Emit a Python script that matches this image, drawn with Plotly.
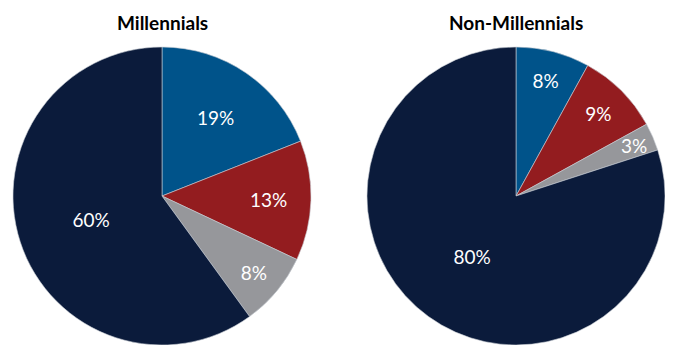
import math
import plotly.graph_objects as go

categories = ["Blue", "Red", "Gray", "Navy"]
millennials = [19, 13, 8, 60]
non_millennials = [8, 9, 3, 80]
titles = ["Millennials", "Non-Millennials"]
colors = ["#00538A", "#931C1F", "#96979B", "#0B1B3B"]

W, H = 673, 345
OX, OY = 8, 8  # page body offset
R = 149
centers = [(162, 196), (516, 196)]  # screen px

fig = go.Figure()
domains = []
for cx, cy in centers:
    fx, fy = cx - OX, cy - OY
    domains.append(dict(x=[(fx - R) / W, (fx + R) / W],
                        y=[1 - (fy + R) / H, 1 - (fy - R) / H]))

label_font = dict(family="Lato", size=19, color="white")
for vals, dom, (cx, cy) in zip([millennials, non_millennials], domains, centers):
    total = sum(vals)
    texts = []
    cum = 0
    for v in vals:
        frac = v / total
        if frac < 0.05:
            # small slice: place label by its mid-angle, near the rim
            ang = 2 * math.pi * (cum + v / 2) / total
            fx = (cx - OX) + 0.86 * R * math.sin(ang)
            fy = (cy - OY) - 0.86 * R * math.cos(ang)
            fig.add_annotation(text="%d%%" % v, x=fx / W, y=1 - fy / H,
                               xref="paper", yref="paper", showarrow=False,
                               xanchor="center", yanchor="middle", font=label_font)
            texts.append("")
        else:
            texts.append("%d%%" % v)
        cum += v
    fig.add_trace(go.Pie(
        labels=categories, values=vals, domain=dom,
        sort=False, direction="clockwise", rotation=0,
        marker=dict(colors=colors, line=dict(color="#C8CCD4", width=0.6)),
        text=texts, texttemplate="%{text}", textposition="inside",
        insidetextorientation="horizontal",
        textfont=label_font,
        showlegend=False, hoverinfo="label+value",
    ))

for t, (cx, cy) in zip(titles, centers):
    fig.add_annotation(text="<b>%s</b>" % t, x=(cx - OX) / W,
                       y=1 - (22 - OY) / H, xref="paper", yref="paper",
                       xanchor="center", yanchor="middle", showarrow=False,
                       font=dict(family="Lato", size=19, color="black"))

fig.update_layout(width=W, height=H, margin=dict(l=0, r=0, t=0, b=0),
                  paper_bgcolor="white", plot_bgcolor="white")
fig.write_html("out.html")
